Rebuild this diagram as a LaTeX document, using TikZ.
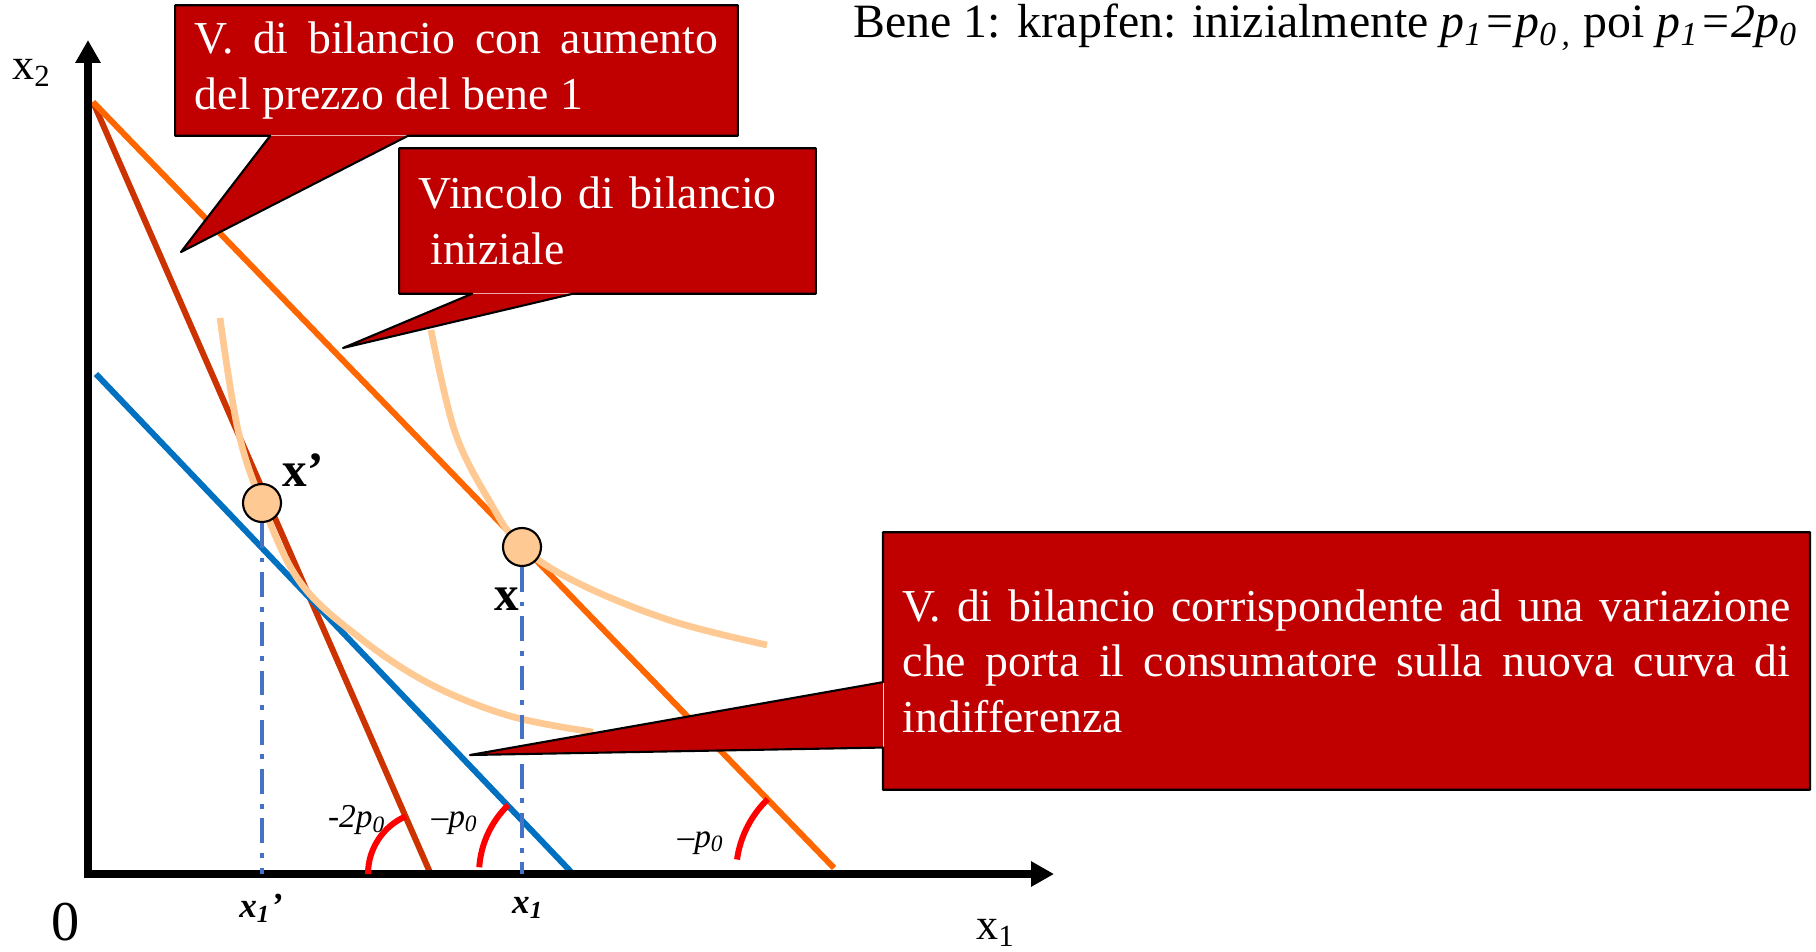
\documentclass[tikz,border=0pt]{standalone}
\usepackage{fontspec}
\setmainfont{Liberation Serif}
\usepackage{xcolor}
\definecolor{cred}{HTML}{C00000}
\definecolor{borange}{HTML}{FF6600}
\definecolor{bdark}{HTML}{CC3300}
\definecolor{bblue}{HTML}{0070C0}
\definecolor{dblue}{HTML}{4472C4}
\definecolor{peach}{HTML}{FFC993}
\usepackage{tikz}
\usetikzlibrary{arrows.meta,calc,positioning}
\tikzset{
  >={Triangle[length=6.5pt,width=6.8pt]},
  axis/.style={line width=2.3pt,<->},
  cbox/.style={fill=cred,text=white,font=\fontsize{13}{15.8}\selectfont,inner xsep=0.19cm,inner ysep=0pt},
  cbline/.style={draw=black,line width=0.6pt,line join=round},
  bud/.style={line width=1.7pt},
  icurve/.style={draw=peach,line width=1.9pt,smooth,tension=0.6},
  ang/.style={draw=red,line width=1.7pt},
  lab/.style={font=\fontsize{9.5}{11}\selectfont\itshape,inner sep=0pt},
  blab/.style={font=\fontsize{10}{12}\selectfont\bfseries\itshape,inner sep=0pt},
  alab/.style={font=\fontsize{12.5}{14}\selectfont,inner sep=0pt},
  pt/.style={circle,draw=black,line width=0.6pt,fill=peach,minimum size=0.38cm,inner sep=0pt},
  drop/.style={draw=dblue,line width=1.2pt,dash pattern=on 7pt off 2.8pt on 1.4pt off 2.8pt},
}

\begin{document}
\begin{tikzpicture}[x=0.01cm,y=-0.01cm]
\useasboundingbox (0,0) rectangle (1816,952);
\clip (0,0) rectangle (1816,952);
\coordinate (o) at (88,874); \coordinate (ytip) at (88,40); \coordinate (xtip) at (1054,874);
\coordinate (top) at (93,102); \coordinate (endD) at (432,877); \coordinate (endO) at (834,868);
\coordinate (startB) at (96,374); \coordinate (endB) at (575,876);
\coordinate (cD) at (431,874); \coordinate (cB) at (575,874); \coordinate (cO) at (840,874);
\coordinate (tip1) at (181,252); \coordinate (tip2) at (343,348); \coordinate (tip3) at (470,755);

% budget lines and axes
\draw[bud,draw=bdark] (top) -- (endD);
\draw[bud,draw=borange] (top) -- (endO);
\draw[bud,draw=bblue] (startB) -- (endB);
\draw[axis] (ytip) -- (o) -- (xtip);

% indifference curves
\draw[icurve] plot coordinates {(220,318) (238,430) (262,503) (300,582) (360,638) (430,684) (510,716) (593,732)};
\draw[icurve] plot coordinates {(431,330) (455,432) (490,502) (522,547) (580,584) (672,621) (767,645)};

% optimal baskets
\node[pt] (xp) at (262,503) {};
\node[pt] (xo) at (522,547) {};
\draw[drop] (xp.south) -- (xp.south |- o);
\draw[drop] (xo.south) -- (xo.south |- o);
\node[font=\fontsize{14}{16}\selectfont\bfseries,inner sep=0pt] (lxp) at (303,470) {x'};
\node[font=\fontsize{14}{16}\selectfont\bfseries,inner sep=0pt] (lxo) at (507,599) {x};

% slope marks
\draw[ang] (cD) ++(180:63) arc[start angle=180,end angle=246.4,radius=63];
\draw[ang] (cB) ++(184:96) arc[start angle=184,end angle=226,radius=96];
\draw[ang] (cO) ++(188:104) arc[start angle=188,end angle=226,radius=104];
\node[lab] (s1) at (357,820) {-2p\textsubscript{0}};
\node[lab] (s2) at (455,823) {\textendash p\textsubscript{0}};
\node[lab] (s3) at (701,843) {\textendash p\textsubscript{0}};

% axis labels
\node[alab] (lx2) at (32,73) {x\textsubscript{2}};
\node[alab] (lx1) at (996,933) {x\textsubscript{1}};
\node[font=\fontsize{16}{18}\selectfont,inner sep=0pt] (lo) at (66,922) {0};
\node[blab] (lx1p) at (261,908) {x\textsubscript{1}'};
\node[blab] (lx1o) at (528,908) {x\textsubscript{1}};

% callouts
\node[cbox,text width=5.23cm,minimum height=1.29cm,align=justify] (cb1) at (456.5,70.5)
  {V. di bilancio con aumento\linebreak del prezzo del bene 1};
\path (cb1.south west) -- (cb1.south east) coordinate[pos=.169] (b1a) coordinate[pos=.414] (b1b);
\fill[cred] (b1a) -- (tip1) -- (b1b) -- cycle;
\draw[cbline] (cb1.south west) |- (cb1.north east) |- (b1b) -- (tip1) -- (b1a) -- cycle;

\node[cbox,text width=3.77cm,minimum height=1.44cm,align=left] (cb2) at (607.5,221)
  {Vincolo di bilancio\\\hspace*{.25em}iniziale};
\path (cb2.south west) -- (cb2.south east) coordinate[pos=.175] (b2a) coordinate[pos=.417] (b2b);
\fill[cred] (b2a) -- (tip2) -- (b2b) -- cycle;
\draw[cbline] (cb2.south west) |- (cb2.north east) |- (b2b) -- (tip2) -- (b2a) -- cycle;

\node[cbox,text width=8.87cm,minimum height=2.56cm,align=justify] (cb3) at (1346.5,661)
  {V. di bilancio corrispondente ad una variazione\linebreak che porta il consumatore sulla nuova curva di\linebreak indifferenza};
\path (cb3.north west) -- (cb3.south west) coordinate[pos=.582] (b3a) coordinate[pos=.836] (b3b);
\fill[cred] (b3a) -- (tip3) -- (b3b) -- cycle;
\draw[cbline] (cb3.north west) -| (cb3.south east) -| (cb3.south west) -- (b3b) -- (tip3) -- (b3a) -- cycle;

% title
\node[anchor=base west,font=\fontsize{13.6}{16}\selectfont,inner sep=0pt] (ttl) at (853,38)
  {Bene 1: krapfen: inizialmente \textit{p\textsubscript{1}=p\textsubscript{0\,,}} poi \textit{p\textsubscript{1}=2p\textsubscript{0}}};
\end{tikzpicture}
\end{document}
